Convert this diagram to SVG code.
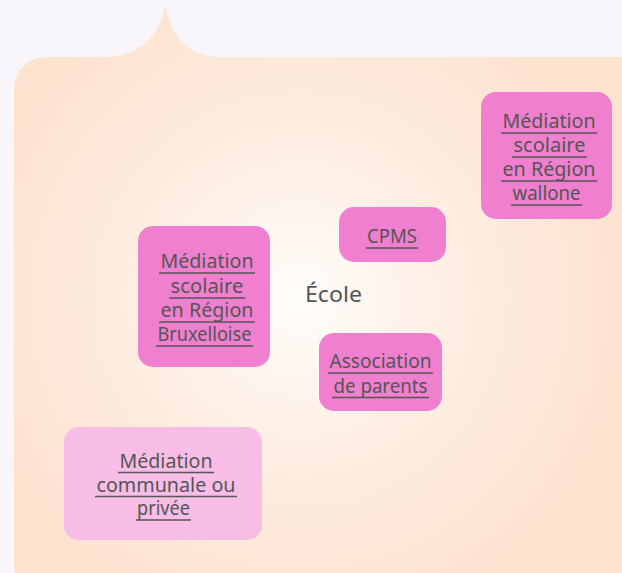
<svg xmlns="http://www.w3.org/2000/svg" width="622" height="573" viewBox="0 0 622 573">
<defs>
<radialGradient id="glow" gradientUnits="userSpaceOnUse" cx="300" cy="300" r="340">
<stop offset="0" stop-color="#fffdfb"/>
<stop offset="0.45" stop-color="#feeee3"/>
<stop offset="1" stop-color="#fde2cf"/>
</radialGradient>
<style>
.node{fill:#f07fcf}
.light{fill:#f7bde6}
.lbl{font-family:"Noto Sans","Liberation Sans",sans-serif;font-size:19px;fill:#555;text-anchor:middle}
.ul{stroke:#555;stroke-width:1.6;fill:none}
.title{font-family:"Noto Sans","Liberation Sans",sans-serif;font-size:22px;fill:#555}
</style>
</defs>
<rect width="622" height="573" fill="#f8f6fa"/>
<g id="panel">
<path d="M112 57 Q159 50 165 4 Q172 50 213 57 Z" fill="url(#glow)"/>
<rect x="14" y="57" width="640" height="540" rx="32" fill="url(#glow)"/>
<text class="title" x="305" y="302" textLength="57" lengthAdjust="spacingAndGlyphs">École</text>
</g>
<g id="connectors"/>
<g id="wallone">
<rect class="node" x="481" y="92" width="131" height="127" rx="15"/>
<text class="lbl" x="549" y="128" textLength="93" lengthAdjust="spacingAndGlyphs">Médiation</text>
<text class="lbl" x="549.5" y="152" textLength="72" lengthAdjust="spacingAndGlyphs">scolaire</text>
<text class="lbl" x="549" y="176" textLength="93" lengthAdjust="spacingAndGlyphs">en Région</text>
<text class="lbl" x="546.5" y="200" textLength="68" lengthAdjust="spacingAndGlyphs">wallone</text>
<path class="ul" d="M501 133H597M512 157H587M501 181H597M511 205H582"/>
</g>
<g id="cpms">
<rect class="node" x="339" y="207" width="107" height="55" rx="15"/>
<text class="lbl" x="392" y="243" textLength="50" lengthAdjust="spacingAndGlyphs">CPMS</text>
<path class="ul" d="M366 248H418"/>
</g>
<g id="bruxelloise">
<rect class="node" x="138" y="226" width="132" height="141" rx="15"/>
<text class="lbl" x="207" y="268" textLength="93" lengthAdjust="spacingAndGlyphs">Médiation</text>
<text class="lbl" x="207" y="293" textLength="73" lengthAdjust="spacingAndGlyphs">scolaire</text>
<text class="lbl" x="207" y="317" textLength="93" lengthAdjust="spacingAndGlyphs">en Région</text>
<text class="lbl" x="204.5" y="341" textLength="94" lengthAdjust="spacingAndGlyphs">Bruxelloise</text>
<path class="ul" d="M159 273H255M169 298H245M159 322H255M156 346H253"/>
</g>
<g id="association">
<rect class="node" x="319" y="333" width="123" height="78" rx="15"/>
<text class="lbl" x="380.5" y="368" textLength="102" lengthAdjust="spacingAndGlyphs">Association</text>
<text class="lbl" x="380.5" y="392.5" textLength="94" lengthAdjust="spacingAndGlyphs">de parents</text>
<path class="ul" d="M328 373H433M332 397.5H429"/>
</g>
<g id="communale">
<rect class="light" x="64" y="427" width="198" height="113" rx="15"/>
<text class="lbl" x="166" y="467.5" textLength="93" lengthAdjust="spacingAndGlyphs">Médiation</text>
<text class="lbl" x="166" y="491.5" textLength="139" lengthAdjust="spacingAndGlyphs">communale ou</text>
<text class="lbl" x="163.5" y="515" textLength="53" lengthAdjust="spacingAndGlyphs">privée</text>
<path class="ul" d="M118 472.5H214M95 496.5H237M136 520H191"/>
</g>
</svg>
